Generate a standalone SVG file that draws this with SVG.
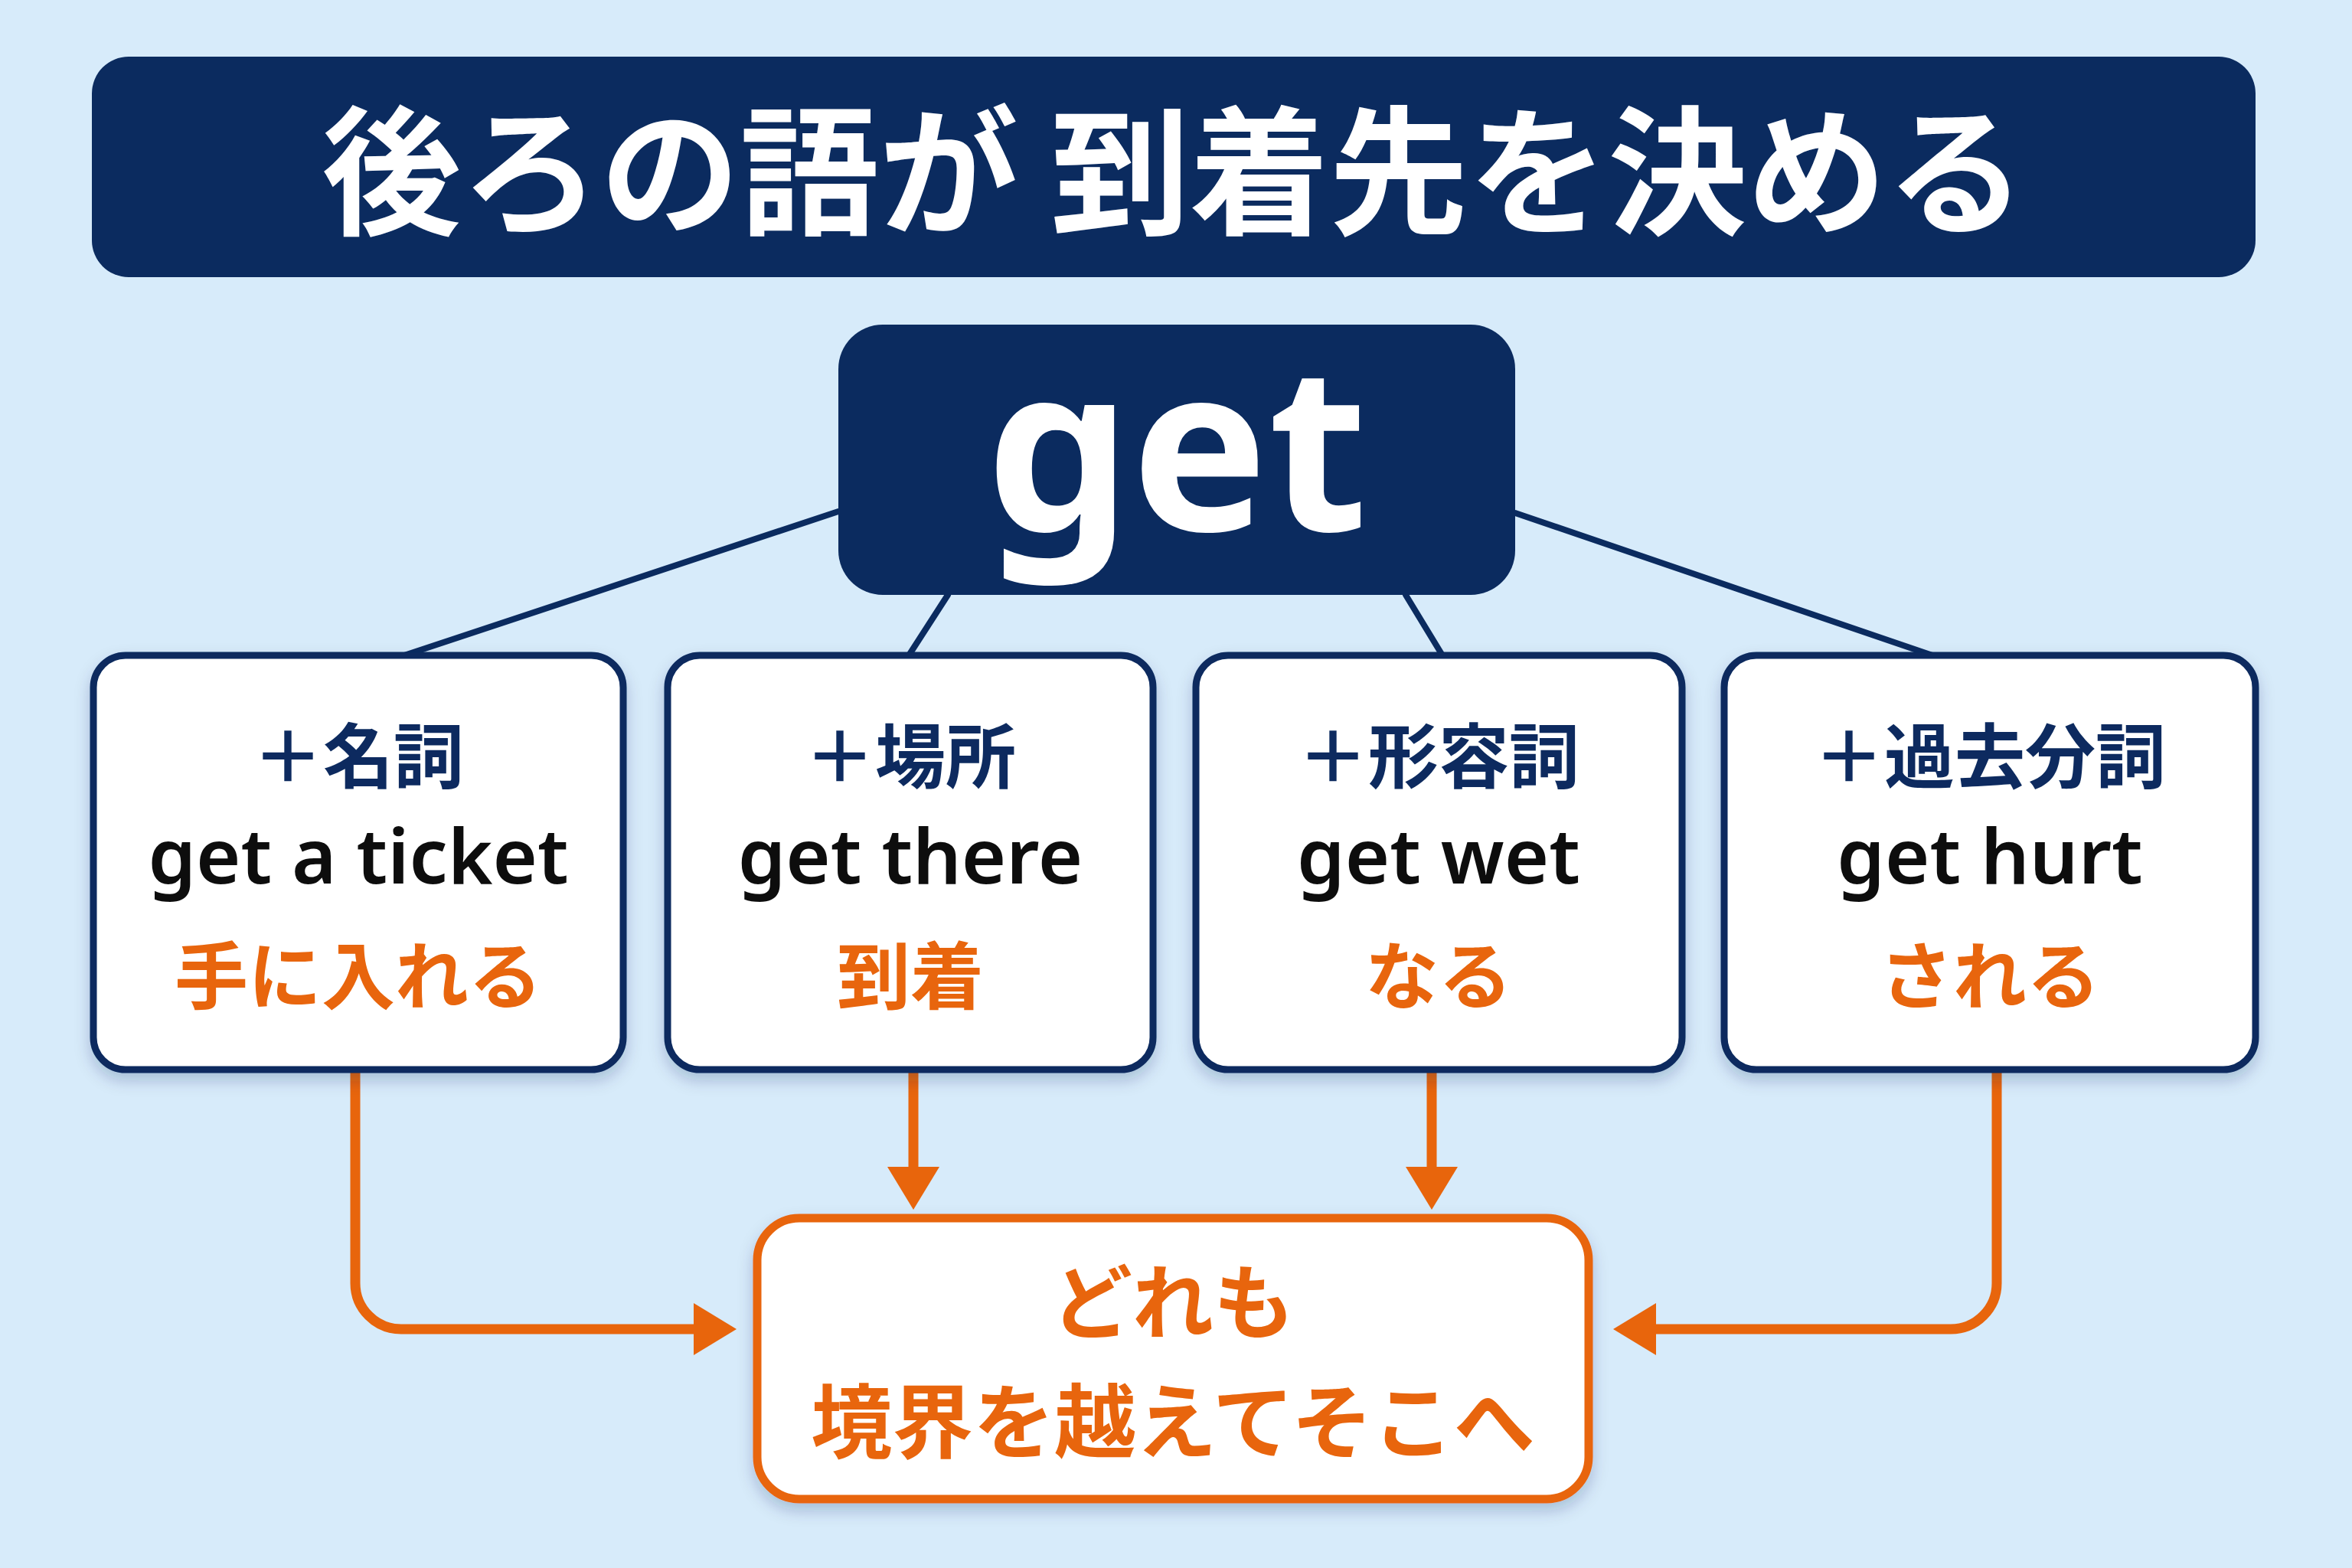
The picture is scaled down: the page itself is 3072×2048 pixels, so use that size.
<svg xmlns="http://www.w3.org/2000/svg" width="3072" height="2048" viewBox="0 0 3072 2048">
  <defs>
    <style>
      .jp { font-family: "Noto Sans CJK JP", "Noto Sans", sans-serif; }
      .en { font-family: "Noto Sans", "Open Sans", "Noto Sans CJK JP", sans-serif; }
      .navybox { fill: #0B2B5F; }
      .card { fill: #FFFFFF; stroke: #0B2B5F; stroke-width: 9; }
      .dest { fill: #FFFFFF; stroke: #E8650C; stroke-width: 11; }
      .hdr { font-size: 92px; font-weight: 700; fill: #0B2B5F; text-anchor: middle; dominant-baseline: central; }
      .ex { font-size: 100px; font-weight: 600; fill: #111111; text-anchor: middle; }
      .mean { font-size: 96px; font-weight: 700; fill: #E8650C; text-anchor: middle; dominant-baseline: central; }
      .dtxt { font-size: 106px; font-weight: 700; fill: #E8650C; text-anchor: middle; dominant-baseline: central; }
      .tree { stroke: #0B2B5F; stroke-width: 8; fill: none; stroke-linecap: round; }
      .flow { stroke: #E8650C; stroke-width: 13; fill: none; }
    </style>
    <filter id="shadow" x="-10%" y="-10%" width="120%" height="130%">
      <feDropShadow dx="0" dy="10" stdDeviation="10" flood-color="#0B2B5F" flood-opacity="0.22"/>
    </filter>
    <marker id="arrow" markerUnits="userSpaceOnUse" markerWidth="56" markerHeight="68" refX="0" refY="34" orient="auto" viewBox="0 0 56 68">
      <path d="M0,0 L56,34 L0,68 Z" fill="#E8650C"/>
    </marker>
  </defs>

  <rect x="0" y="0" width="3072" height="2048" fill="#D7EBFA"/>

  <g id="title">
    <rect class="navybox" x="120" y="74" width="2826" height="288" rx="48"/>
    <text class="jp" x="1533" y="212" font-size="182" font-weight="700" fill="#FFFFFF" text-anchor="middle" dominant-baseline="central">後ろの語が 到着先を決める</text>
  </g>

  <g id="connectors">
    <line class="tree" x1="1095" y1="668" x2="528" y2="856"/>
    <line class="tree" x1="1238" y1="777" x2="1187" y2="856"/>
    <line class="tree" x1="1836" y1="777" x2="1884" y2="856"/>
    <line class="tree" x1="1979" y1="670" x2="2524" y2="856"/>
    <path class="flow" d="M464,1401 V1676 A60,60 0 0 0 524,1736 H906" marker-end="url(#arrow)"/>
    <path class="flow" d="M1193,1401 V1524" marker-end="url(#arrow)"/>
    <path class="flow" d="M1870,1401 V1524" marker-end="url(#arrow)"/>
    <path class="flow" d="M2608,1401 V1676 A60,60 0 0 1 2548,1736 H2163" marker-end="url(#arrow)"/>
  </g>

  <g id="get">
    <rect class="navybox" x="1095" y="424" width="884" height="353" rx="58"/>
    <text class="en" x="1537" y="693" font-size="300" font-weight="700" fill="#FFFFFF" text-anchor="middle">get</text>
  </g>

  <g id="noun" filter="url(#shadow)">
    <rect class="card" x="122" y="856" width="692" height="541" rx="42"/>
    <text class="jp hdr" x="468" y="981">＋名詞</text>
    <text class="en ex" x="468" y="1154">get a ticket</text>
    <text class="jp mean" x="468" y="1268">手に入れる</text>
  </g>

  <g id="place" filter="url(#shadow)">
    <rect class="card" x="872" y="856" width="634" height="541" rx="42"/>
    <text class="jp hdr" x="1189" y="981">＋場所</text>
    <text class="en ex" x="1189" y="1154">get there</text>
    <text class="jp mean" x="1189" y="1268">到着</text>
  </g>

  <g id="adjective" filter="url(#shadow)">
    <rect class="card" x="1562" y="856" width="635" height="541" rx="42"/>
    <text class="jp hdr" x="1879" y="981">＋形容詞</text>
    <text class="en ex" x="1879" y="1154">get wet</text>
    <text class="jp mean" x="1879" y="1268">なる</text>
  </g>

  <g id="participle" filter="url(#shadow)">
    <rect class="card" x="2252" y="856" width="694" height="541" rx="42"/>
    <text class="jp hdr" x="2599" y="981">＋過去分詞</text>
    <text class="en ex" x="2599" y="1154">get hurt</text>
    <text class="jp mean" x="2599" y="1268">される</text>
  </g>

  <g id="destination" filter="url(#shadow)">
    <rect class="dest" x="989" y="1591" width="1086" height="367" rx="55"/>
    <text class="jp dtxt" x="1532" y="1694">どれも</text>
    <text class="jp dtxt" x="1532" y="1850">境界を越えてそこへ</text>
  </g>
</svg>
